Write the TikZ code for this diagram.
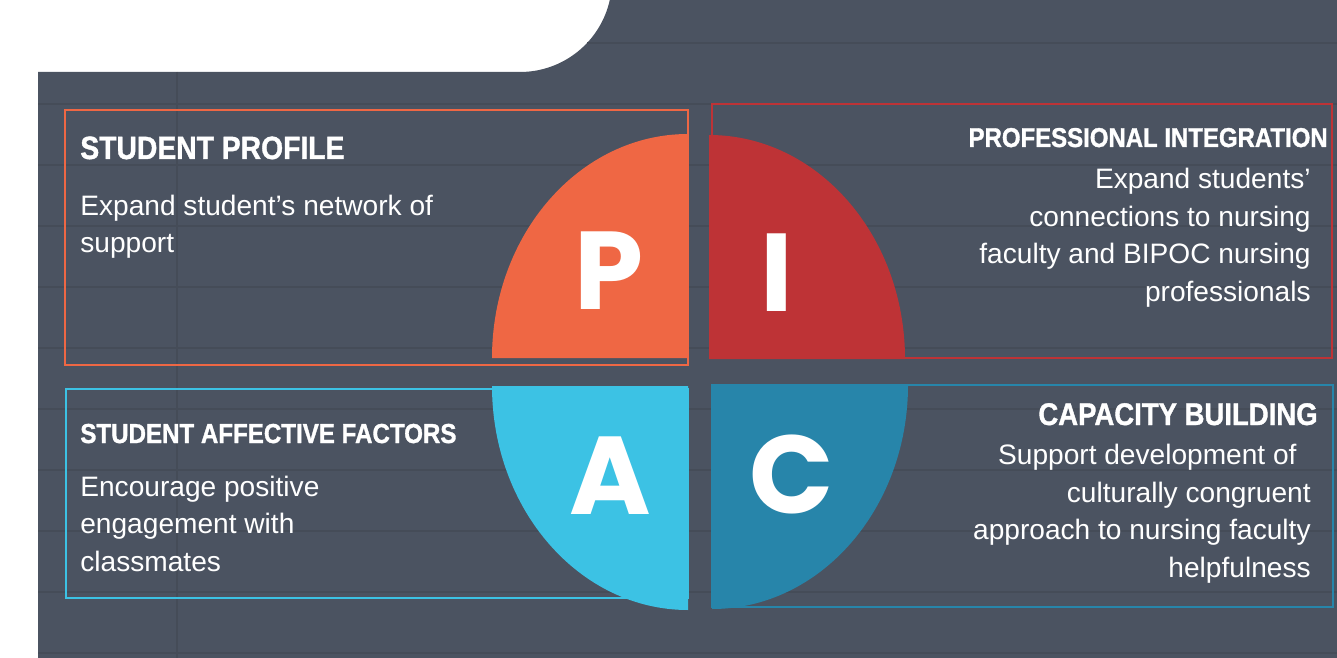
\documentclass[tikz,border=0pt]{standalone}
\usepackage{fontspec}
\setmainfont{Liberation Sans}
\newfontfamily\headfont{Liberation Sans}[FakeStretch=0.88,FakeBold=1.2]
\newfontfamily\letterfont{Poppins}
\usetikzlibrary{positioning}
\definecolor{slate}{HTML}{4B5361}
\definecolor{ruling}{HTML}{454C58}
\definecolor{porange}{HTML}{EF6744}
\definecolor{ired}{HTML}{BE3336}
\definecolor{acyan}{HTML}{3CC2E4}
\definecolor{cblue}{HTML}{2785AA}

\begin{document}
\begin{tikzpicture}[
    x=0.02cm,y=-0.02cm,
    frame/.style={line width=1.5pt},
    title/.style={text=white,inner sep=0pt,font=\headfont\bfseries\fontsize{#1}{#1}\selectfont},
    body/.style={text=white,inner sep=0pt,font=\fontsize{16}{21.3}\selectfont},
    letter/.style={text=white,inner sep=0pt,anchor=base,font=\letterfont\bfseries\fontsize{63}{63}\selectfont}
  ]
    \useasboundingbox (0,0) rectangle (1337,658);
    \fill[white] (0,0) rectangle (1337,658);
    \fill[slate] (38,658) -- (38,72) -- (520,72) arc[start angle=90,end angle=12.6,radius=92] -- (1337,0) -- (1337,658) -- cycle;
    % ruled paper
    \foreach \r in {104,165,...,653} {\draw[ruling,line width=.9pt] (38,\r) -- (1337,\r);}
    \draw[ruling,line width=.9pt] (587,43) -- (1337,43);
    \draw[ruling,line width=.6pt] (177,72) -- (177,658);
    % boxes
    \draw[frame,porange] (65,110) rectangle (688,365);
    \draw[frame,ired] (712,104) rectangle (1332,358);
    \draw[frame,acyan] (66,389) rectangle (688,598);
    \draw[frame,cblue] (712,385) rectangle (1333,607);
    % quarters
    \foreach \col/\cx/\cy/\from/\to in {porange/688/358/270/180,ired/709/359/270/360,acyan/688/386/180/90,cblue/712/385/0/90}
      {\fill[\col] (\cx,\cy) -- ++(\from:196 and 224) arc[start angle=\from,end angle=\to,x radius=196,y radius=224] -- cycle;}
    \node[letter] (lp) at (609,309) {P};
    \node[letter] (li) at (777,311) {I};
    \node[letter] (la) at (610,514) {A};
    \node[letter] (lc) at (792,513) {C};
    % texts (base = last line)
    \node[title=18.3,anchor=base west] (phead) at (80,159) {STUDENT PROFILE};
    \node[body,anchor=base west,align=left] (pbody) at (80,253) {Expand student’s network of\\support};
    \node[title=15.5,anchor=base east] (ihead) at (1328,147) {PROFESSIONAL INTEGRATION};
    \node[body,anchor=base east,align=right] (ibody) at (1311,301)
      {Expand students’\\connections to nursing\hspace*{.55em}\\faculty and BIPOC nursing\hspace*{.55em}\\professionals};
    \node[title=15.6,anchor=base west] (ahead) at (80,443) {STUDENT AFFECTIVE FACTORS};
    \node[body,anchor=base west,align=left] (abody) at (80,571) {Encourage positive\\engagement with\\classmates};
    \node[title=17.8,anchor=base east] (chead) at (1318,425) {CAPACITY BUILDING};
    \node[body,anchor=base east,align=right] (cbody) at (1311,577)
      {Support development of\hspace*{.5em}\\culturally congruent\hspace*{.4em}\\approach to nursing faculty\hspace*{.45em}\\helpfulness};
  \end{tikzpicture}
\end{document}
